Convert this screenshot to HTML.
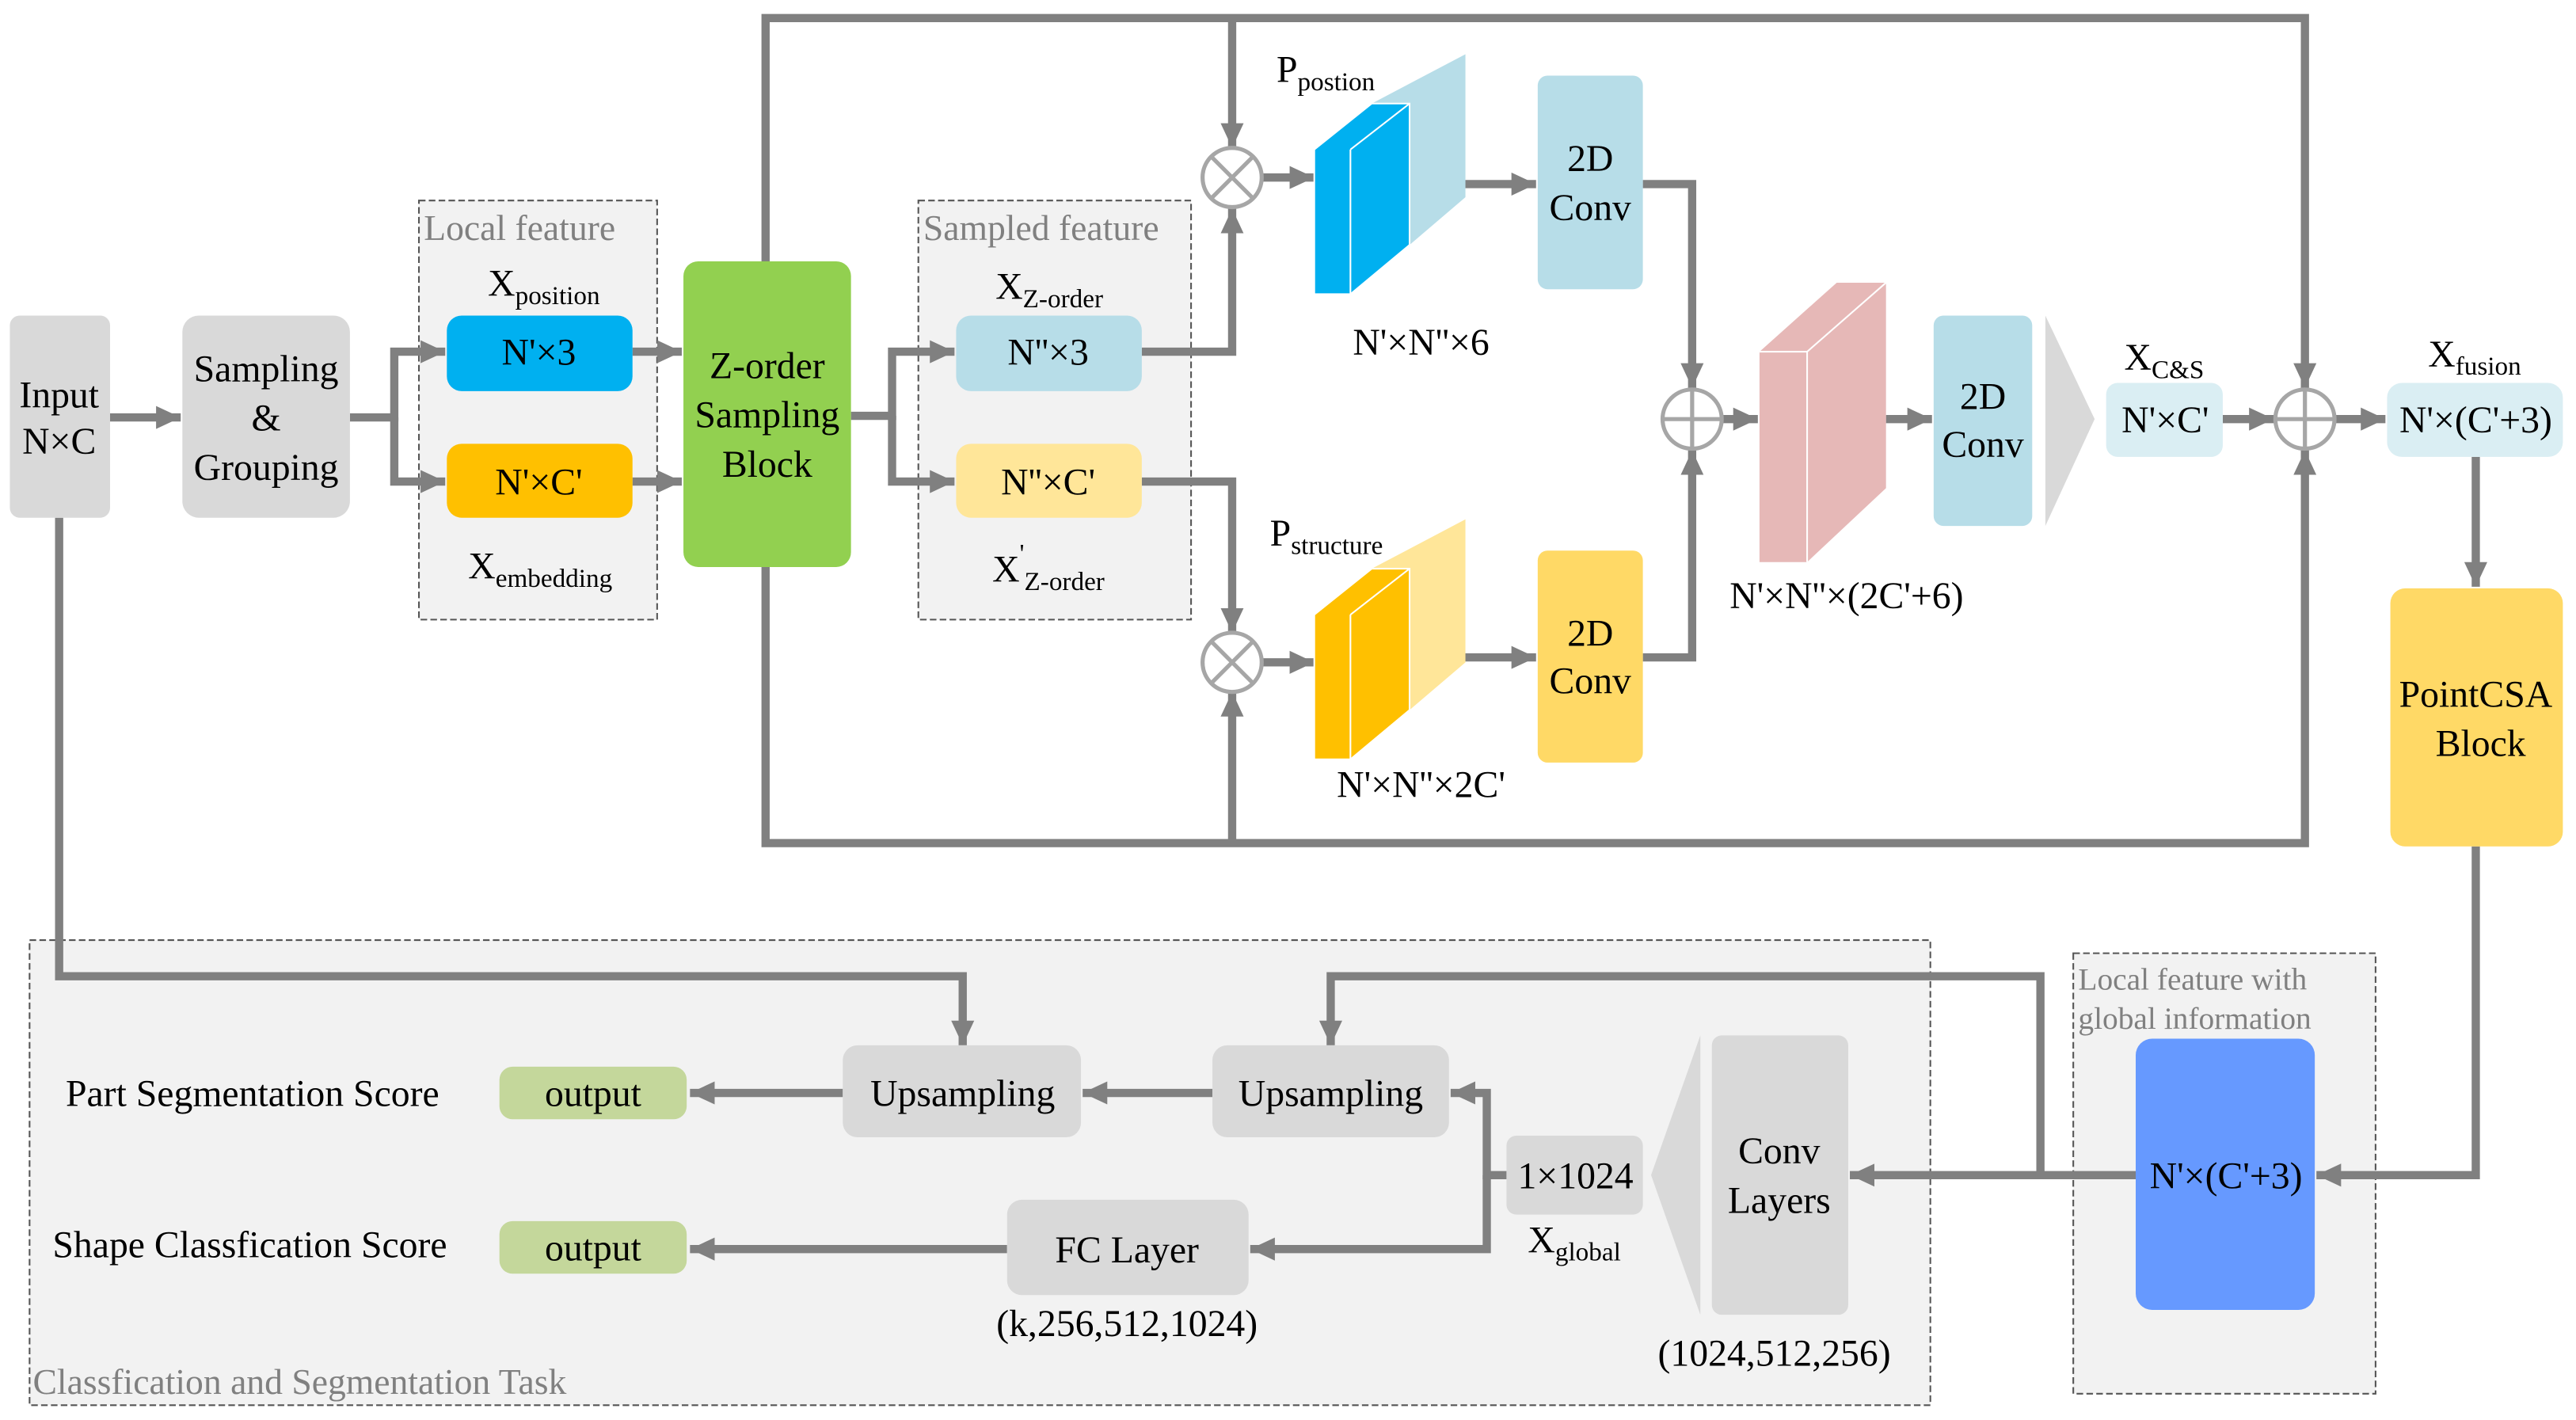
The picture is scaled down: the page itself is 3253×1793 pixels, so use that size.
<!DOCTYPE html>
<html><head><meta charset="utf-8"><style>html,body{margin:0;padding:0;background:#fff}svg{display:block}svg text{font-family:"Liberation Serif","Times New Roman",serif}</style></head>
<body>
<svg width="3253" height="1793" viewBox="0 0 1568 864" preserveAspectRatio="none" xmlns="http://www.w3.org/2000/svg">
<defs>
<marker id="a" markerUnits="userSpaceOnUse" markerWidth="16" markerHeight="16" refX="15" refY="8" orient="auto"><path d="M0,1 L15,8 L0,15 Z" fill="#808080"/></marker>
</defs>
<rect x="255" y="122" width="145" height="255" fill="#f2f2f2" stroke="#555" stroke-width="1" stroke-dasharray="4,2"/>
<rect x="559" y="122" width="166" height="255" fill="#f2f2f2" stroke="#555" stroke-width="1" stroke-dasharray="4,2"/>
<rect x="18" y="572" width="1157" height="283" fill="#f2f2f2" stroke="#555" stroke-width="1" stroke-dasharray="4,2"/>
<rect x="1262" y="580" width="184" height="268" fill="#f2f2f2" stroke="#555" stroke-width="1" stroke-dasharray="4,2"/>
<g fill="#808080" font-size="22">
<text x="258" y="146">Local feature</text>
<text x="562" y="146">Sampled feature</text>
<text x="20" y="848">Classfication and Segmentation Task</text>
<text x="1265" y="602" font-size="19">Local feature with</text>
<text x="1265" y="626" font-size="19">global information</text>
</g>
<g stroke="#808080" stroke-width="5" fill="none">
<path d="M67,254 H110" marker-end="url(#a)"/>
<path d="M213,254 H240 V214 H271" marker-end="url(#a)"/>
<path d="M240,254 V293 H271" marker-end="url(#a)"/>
<path d="M385,214 H415" marker-end="url(#a)"/>
<path d="M385,293 H415" marker-end="url(#a)"/>
<path d="M518,253 H543 V214 H581" marker-end="url(#a)"/>
<path d="M543,253 V293 H581" marker-end="url(#a)"/>
<path d="M695,214 H750 V127" marker-end="url(#a)"/>
<path d="M695,293 H750 V385" marker-end="url(#a)"/>
<path d="M466,159 V11 H1403 V236" marker-end="url(#a)"/>
<path d="M750,11 V90" marker-end="url(#a)"/>
<path d="M466,345 V513 H1403 V274" marker-end="url(#a)"/>
<path d="M750,513 V421" marker-end="url(#a)"/>
<path d="M768,108 H800" marker-end="url(#a)"/>
<path d="M768,403 H800" marker-end="url(#a)"/>
<path d="M858,112 H935" marker-end="url(#a)"/>
<path d="M858,400 H935" marker-end="url(#a)"/>
<path d="M1000,112 H1030 V236" marker-end="url(#a)"/>
<path d="M1000,400 H1030 V274" marker-end="url(#a)"/>
<path d="M1048,255 H1070" marker-end="url(#a)"/>
<path d="M1148,255 H1176" marker-end="url(#a)"/>
<path d="M1353,255 H1384" marker-end="url(#a)"/>
<path d="M1421,255 H1452" marker-end="url(#a)"/>
<path d="M1507,278 V357" marker-end="url(#a)"/>
<path d="M1507,515 V715 H1410" marker-end="url(#a)"/>
<path d="M1300,715 H1126" marker-end="url(#a)"/>
<path d="M1242,715 V594 H810 V636" marker-end="url(#a)"/>
<path d="M36,315 V594 H586 V636" marker-end="url(#a)"/>
<path d="M738,665 H659" marker-end="url(#a)"/>
<path d="M513,665 H420" marker-end="url(#a)"/>
<path d="M917,715 H905 V665 H883" marker-end="url(#a)"/>
<path d="M905,715 V760 H761" marker-end="url(#a)"/>
<path d="M613,760 H420" marker-end="url(#a)"/>
</g>
<g stroke="#a6a6a6" stroke-width="2.5" fill="#fff">
<circle cx="750" cy="108" r="18"/><circle cx="750" cy="403" r="18"/>
<circle cx="1030" cy="255" r="18"/><circle cx="1403" cy="255" r="18"/>
</g>
<g stroke="#a6a6a6" stroke-width="2.5">
<path d="M737,95 L763,121 M763,95 L737,121"/>
<path d="M737,390 L763,416 M763,390 L737,416"/>
<path d="M1012,255 H1048 M1030,237 V273"/>
<path d="M1385,255 H1421 M1403,237 V273"/>
</g>
<rect x="6" y="192" width="61" height="123" rx="6" fill="#d9d9d9"/>
<rect x="111" y="192" width="102" height="123" rx="10" fill="#d9d9d9"/>
<rect x="272" y="192" width="113" height="46" rx="9" fill="#00b0f0"/>
<rect x="272" y="270" width="113" height="45" rx="9" fill="#ffc000"/>
<rect x="416" y="159" width="102" height="186" rx="9" fill="#92d050"/>
<rect x="582" y="192" width="113" height="46" rx="9" fill="#b7dde8"/>
<rect x="582" y="270" width="113" height="45" rx="9" fill="#ffe699"/>
<rect x="936" y="46" width="64" height="130" rx="6" fill="#b7dde8"/>
<rect x="936" y="335" width="64" height="129" rx="6" fill="#ffd966"/>
<rect x="1177" y="192" width="60" height="128" rx="6" fill="#b7dde8"/>
<path d="M1245,192 L1275,255 L1245,320 Z" fill="#d9d9d9"/>
<rect x="1282" y="233" width="71" height="45" rx="7" fill="#daeef3"/>
<rect x="1453" y="233" width="107" height="45" rx="9" fill="#daeef3"/>
<rect x="1455" y="358" width="105" height="157" rx="9" fill="#ffd966"/>
<rect x="1300" y="632" width="109" height="165" rx="10" fill="#6699ff"/>
<rect x="1042" y="630" width="83" height="170" rx="6" fill="#d9d9d9"/>
<path d="M1035,630 L1005,715 L1035,800 Z" fill="#d9d9d9"/>
<rect x="917" y="691" width="83" height="48" rx="6" fill="#d9d9d9"/>
<rect x="738" y="636" width="144" height="56" rx="9" fill="#d9d9d9"/>
<rect x="513" y="636" width="145" height="56" rx="9" fill="#d9d9d9"/>
<rect x="613" y="730" width="147" height="58" rx="9" fill="#d9d9d9"/>
<rect x="304" y="649" width="114" height="32" rx="8" fill="#c4d79b"/>
<rect x="304" y="743" width="114" height="32" rx="8" fill="#c4d79b"/>
<path d="M835,63 L892,33 L892,120 L858,149 L858,63 Z" fill="#b7dde8"/>
<path d="M800,91 L835,63 L858,63 L858,149 L822,179 L800,179 Z" fill="#00b0f0" stroke="#fff" stroke-width="1"/>
<path d="M822,91 V179 M822,91 L858,63" stroke="#fff" stroke-width="1"/>
<path d="M835,346 L892,316 L892,403 L858,432 L858,346 Z" fill="#ffe699"/>
<path d="M800,374 L835,346 L858,346 L858,432 L822,462 L800,462 Z" fill="#ffc000" stroke="#fff" stroke-width="1"/>
<path d="M822,374 V462 M822,374 L858,346" stroke="#fff" stroke-width="1"/>
<path d="M1071,214 L1118,172 L1148,172 L1148,297 L1100,342 L1071,342 Z" fill="#e6b8b7"/>
<path d="M1100,214 V342 M1100,214 L1148,172 M1071,214 H1100" stroke="#fff" stroke-width="1" fill="none"/>
<g font-size="23" fill="#000" text-anchor="middle">
<text x="36" y="248">Input</text><text x="36" y="276">N×C</text>
<text x="162" y="232">Sampling</text><text x="162" y="262">&amp;</text><text x="162" y="292">Grouping</text>
<text x="328" y="222">N'×3</text><text x="328" y="301">N'×C'</text>
<text x="467" y="230">Z-order</text><text x="467" y="260">Sampling</text><text x="467" y="290">Block</text>
<text x="638" y="222">N''×3</text><text x="638" y="301">N''×C'</text>
<text x="968" y="104">2D</text><text x="968" y="134">Conv</text>
<text x="968" y="393">2D</text><text x="968" y="422">Conv</text>
<text x="1207" y="249">2D</text><text x="1207" y="278">Conv</text>
<text x="1318" y="263">N'×C'</text>
<text x="1507" y="263">N'×(C'+3)</text>
<text x="1507" y="430">PointCSA</text><text x="1510" y="460">Block</text>
<text x="1355" y="723">N'×(C'+3)</text>
<text x="1083" y="708">Conv</text><text x="1083" y="738">Layers</text>
<text x="959" y="723">1×1024</text>
<text x="810" y="673">Upsampling</text>
<text x="586" y="673">Upsampling</text>
<text x="686" y="768">FC Layer</text>
<text x="361" y="673">output</text>
<text x="361" y="767">output</text>
<text x="865" y="216">N'×N''×6</text>
<text x="865" y="485">N'×N''×2C'</text>
<text x="1124" y="370">N'×N''×(2C'+6)</text>
<text x="686" y="813">(k,256,512,1024)</text>
<text x="1080" y="831">(1024,512,256)</text>
</g>
<g font-size="23" fill="#000">
<text x="40" y="673">Part Segmentation Score</text>
<text x="32" y="765">Shape Classfication Score</text>
<text x="297" y="180">X<tspan font-size="16" dy="5">position</tspan></text>
<text x="285" y="352">X<tspan font-size="16" dy="5">embedding</tspan></text>
<text x="606" y="182">X<tspan font-size="16" dy="5">Z-order</tspan></text>
<text x="604" y="354">X<tspan font-size="16" dy="-12">'</tspan><tspan font-size="16" dy="17">Z-order</tspan></text>
<text x="777" y="50">P<tspan font-size="16" dy="5">postion</tspan></text>
<text x="773" y="332">P<tspan font-size="16" dy="5">structure</tspan></text>
<text x="1293" y="225">X<tspan font-size="16" dy="5">C&amp;S</tspan></text>
<text x="1478" y="223">X<tspan font-size="16" dy="5">fusion</tspan></text>
<text x="930" y="762">X<tspan font-size="16" dy="5">global</tspan></text>
</g>
</svg>
</body></html>
